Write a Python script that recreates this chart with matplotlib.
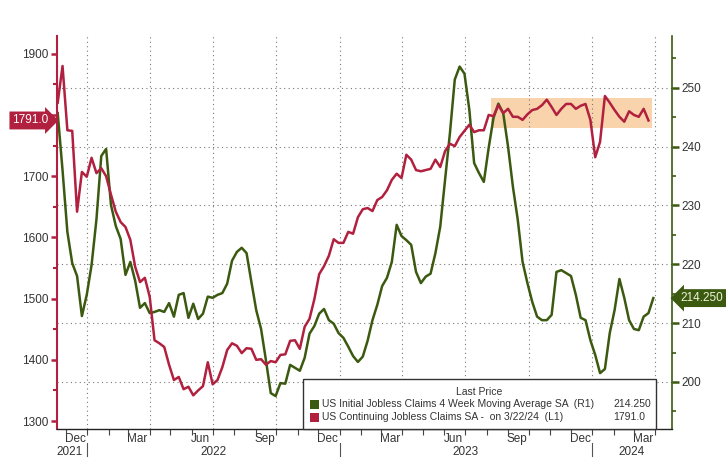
import numpy as np
import pandas as pd
import matplotlib
matplotlib.use("Agg")
import matplotlib.pyplot as plt
import matplotlib.dates as mdates
import matplotlib.transforms as mtransforms
from matplotlib.patches import Rectangle

# weekly data
continuing_dates = pd.date_range(end="2024-03-22", periods=123, freq="7D")
continuing = [
    1820, 1880, 1775, 1774, 1642, 1707, 1699, 1730, 1705, 1713, 1700, 1670,
    1642, 1625, 1617, 1596, 1552, 1527, 1534, 1503, 1432, 1427, 1421, 1392,
    1367, 1372, 1352, 1356, 1342, 1350, 1357, 1396, 1360, 1367, 1388, 1416,
    1427, 1423, 1411, 1419, 1418, 1400, 1401, 1392, 1398, 1396, 1408, 1409,
    1431, 1432, 1418, 1454, 1467, 1499, 1540, 1553, 1570, 1597, 1591, 1591,
    1609, 1606, 1633, 1646, 1648, 1643, 1661, 1666, 1677, 1694, 1704, 1697,
    1735, 1727, 1710, 1708, 1710, 1712, 1727, 1715, 1741, 1753, 1749, 1764,
    1774, 1784, 1772, 1775, 1775, 1800, 1798, 1816, 1803, 1810, 1797, 1797,
    1792, 1801, 1808, 1810, 1816, 1825, 1813, 1800, 1810, 1818, 1818, 1810,
    1815, 1818, 1792, 1731, 1756, 1831, 1820, 1808, 1797, 1789, 1806, 1800,
    1797, 1810, 1791,
]

initial_dates = pd.date_range(end="2024-03-29", periods=124, freq="7D")
initial_4wk = [
    245.7, 236.0, 225.5, 220.2, 218.0, 211.2, 214.8, 219.9, 227.6, 238.4,
    239.6, 230.1, 226.5, 224.3, 218.2, 220.4, 217.2, 212.6, 213.4, 211.7,
    211.9, 212.2, 211.9, 213.4, 211.1, 214.8, 215.1, 210.9, 213.3, 210.7,
    211.6, 214.5, 214.3, 214.8, 215.1, 216.7, 220.6, 222.1, 222.8, 221.9,
    217.0, 212.2, 209.0, 203.7, 198.1, 197.6, 199.8, 199.7, 202.9, 202.4,
    201.9, 204.1, 208.2, 209.5, 211.6, 212.4, 210.5, 209.9, 208.3, 207.5,
    206.0, 204.4, 203.4, 204.3, 207.0, 210.5, 213.1, 216.3, 217.7, 220.4,
    226.7, 224.8, 224.1, 223.3, 218.7, 216.8, 217.9, 218.4, 221.9, 226.4,
    234.4, 242.3, 251.4, 253.6, 252.4, 246.3, 237.2, 235.5, 234.0, 239.8,
    244.9, 247.3, 245.7, 240.0, 233.2, 227.6, 220.4, 216.8, 213.6, 211.1,
    210.5, 210.5, 211.4, 218.7, 219.0, 218.5, 218.0, 214.8, 210.9, 210.5,
    207.1, 204.6, 201.5, 202.2, 208.3, 212.2, 217.5, 214.3, 210.5, 209.0,
    208.8, 211.1, 211.7, 214.25,
]

month_labels = ["Dec", "Mar", "Jun", "Sep", "Dec", "Mar", "Jun", "Sep", "Dec", "Mar"]
month_label_dates = ["2021-12-14", "2022-03-14", "2022-06-14", "2022-09-14", "2022-12-14",
                     "2023-03-14", "2023-06-14", "2023-09-14", "2023-12-14", "2024-03-14"]
year_labels = ["2021", "2022", "2023", "2024"]
year_label_dates = ["2021-12-06", "2022-07-02", "2023-07-02", "2024-02-27"]
left_ticks = [1300, 1400, 1500, 1600, 1700, 1800, 1900]
left_ticklabels = ["1300", "1400", "1500", "1600", "1700", "", "1900"]

RED = "#B1213F"
GREEN = "#3B5A10"
TXT = "#333333"
plt.rcParams["font.family"] = ["Liberation Sans", "DejaVu Sans"]

fig = plt.figure(figsize=(7.26, 4.75), dpi=100)
axL = fig.add_axes([57 / 726, 1 - 429 / 475, 615 / 726, 393 / 475])
axR = axL.twinx()
axL.set_zorder(2)
axL.patch.set_visible(False)

x0, x1 = pd.Timestamp("2021-11-18"), pd.Timestamp("2024-04-25")
axL.set_xlim(x0, x1)
axL.set_ylim(1287, 1929)
axR.set_ylim(192, 258.8)

# highlighted range of continuing claims
hl_start = mdates.date2num(pd.Timestamp("2023-08-08"))
hl_end = mdates.date2num(pd.Timestamp("2024-03-27"))
axR.add_patch(Rectangle((hl_start, 243.2), hl_end - hl_start, 5.1,
                        facecolor="#F9D3AC", edgecolor="none", zorder=1))

# grid
axR.set_yticks(np.arange(200, 251, 10))
axR.set_yticks(np.arange(195, 256, 5), minor=True)
axR.yaxis.grid(True, which="major", linestyle=(0, (1, 3)), color="#777777", linewidth=0.8)
for q in pd.date_range("2022-01-01", "2024-04-01", freq="QS"):
    axR.axvline(q, linestyle=(0, (1, 3)), color="#777777", linewidth=0.8, zorder=1.5)

axR.plot(initial_dates, initial_4wk, color=GREEN, linewidth=1.8, zorder=3)
axL.plot(continuing_dates, continuing, color=RED, linewidth=1.8, zorder=3)

# spines
axL.spines["top"].set_visible(False)
axR.spines["top"].set_visible(False)
axL.spines["right"].set_visible(False)
axR.spines["left"].set_visible(False)
axR.spines["bottom"].set_visible(False)
axL.spines["left"].set_color(RED)
axL.spines["left"].set_linewidth(1.5)
axR.spines["right"].set_color(GREEN)
axR.spines["right"].set_linewidth(1.2)
axL.spines["bottom"].set_color("#222222")
axL.spines["bottom"].set_linewidth(1.0)

# y ticks
axL.set_yticks(left_ticks)
axL.set_yticklabels(left_ticklabels)
axL.set_yticks(np.arange(1350, 1901, 100), minor=True)
axL.tick_params(axis="y", which="major", colors=RED, labelcolor=TXT, length=4,
                width=1.8, labelsize=8.5, pad=2)
axL.tick_params(axis="y", which="minor", colors=RED, length=3, width=1.5)
axR.tick_params(axis="y", which="major", colors=GREEN, labelcolor=TXT, length=5,
                width=1.8, labelsize=8.5, pad=2)
axR.tick_params(axis="y", which="minor", colors=GREEN, length=3, width=1.2)

# x ticks: months
axL.set_xticks(pd.to_datetime(month_label_dates))
axL.set_xticklabels(month_labels)
axL.set_xticks(pd.date_range("2021-12-01", "2024-04-01", freq="MS"), minor=True)
axL.tick_params(axis="x", which="major", length=0, labelsize=8.5, labelcolor=TXT, pad=3)
axL.tick_params(axis="x", which="minor", length=4, width=0.8, color="#444444")

# year row
trans = mtransforms.blended_transform_factory(axL.transData, axL.transAxes)
for lab, d in zip(year_labels, year_label_dates):
    axL.text(pd.Timestamp(d), -0.058, lab, transform=trans, ha="center",
             va="center", fontsize=8.5, color=TXT)
for y in year_labels[1:]:
    axL.plot([pd.Timestamp(f"{y}-01-01")] * 2, [-0.036, -0.068], transform=trans,
             color="#555555", linewidth=0.8, clip_on=False)

# last value tags
axL.annotate(f"{continuing[-1]:.1f}", xy=(0, continuing[-1]),
             xycoords=("axes fraction", "data"), xytext=(-6, 0),
             textcoords="offset points", ha="right", va="center",
             fontsize=8.5, color="white",
             bbox=dict(boxstyle="rarrow,pad=0.25", fc=RED, ec="none"),
             annotation_clip=False)
axR.annotate(f"{initial_4wk[-1]:.3f}", xy=(1, initial_4wk[-1]),
             xycoords=("axes fraction", "data"), xytext=(6, 0),
             textcoords="offset points", ha="left", va="center",
             fontsize=8.5, color="#EEF3D8",
             bbox=dict(boxstyle="larrow,pad=0.25", fc=GREEN, ec="none"),
             annotation_clip=False)

# legend box
def fx(px):
    return px / 726


def fy(py):
    return 1 - py / 475


fig.add_artist(Rectangle((fx(303), fy(429)), fx(656) - fx(303), fy(379) - fy(429),
                         transform=fig.transFigure, facecolor="white",
                         edgecolor="#333333", linewidth=1.0, zorder=5))
fig.text(fx(479), fy(392), "Last Price", ha="center", va="center",
         fontsize=7.5, color=TXT, zorder=6)
rows = [
    (GREEN, "US Initial Jobless Claims 4 Week Moving Average SA  (R1)", f"{initial_4wk[-1]:.3f}", 404),
    (RED, "US Continuing Jobless Claims SA -  on 3/22/24  (L1)", f"{continuing[-1]:.1f}", 417),
]
for col, name, val, py in rows:
    fig.add_artist(Rectangle((fx(310), fy(py + 4.5)), fx(9), 9 / 475,
                             transform=fig.transFigure, facecolor=col,
                             edgecolor="none", zorder=6))
    fig.text(fx(322), fy(py), name, ha="left", va="center", fontsize=7.5,
             color=TXT, zorder=6)
    fig.text(fx(613), fy(py), val, ha="left", va="center", fontsize=7.5,
             color=TXT, zorder=6)

fig.savefig("out.png", dpi=100)
